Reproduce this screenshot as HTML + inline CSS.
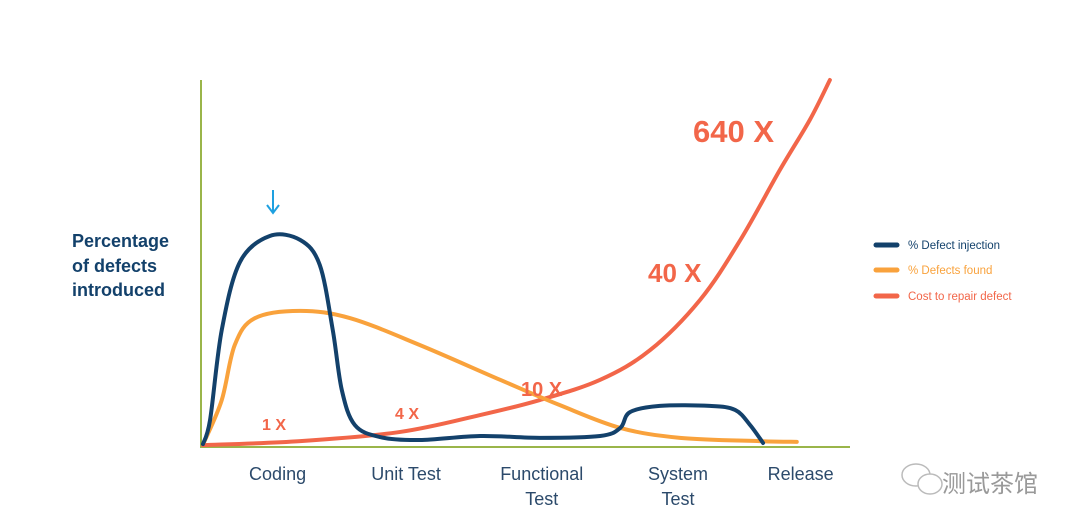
<!DOCTYPE html>
<html><head><meta charset="utf-8"><style>
html,body{margin:0;padding:0;background:#fff;}
svg{display:block;font-family:"Liberation Sans","Noto Sans CJK SC",sans-serif;}
</style></head><body>
<svg id="chart" width="1080" height="529" viewBox="0 0 1080 529">
<rect width="1080" height="529" fill="#fff"/>
<line x1="201" y1="80" x2="201" y2="448" stroke="#9ab54a" stroke-width="2"/>
<line x1="200" y1="447" x2="850" y2="447" stroke="#9ab54a" stroke-width="2"/>
<g fill="#13416b" font-size="18" font-weight="600">
<text x="72" y="247">Percentage</text><text x="72" y="272">of defects</text><text x="72" y="296">introduced</text>
</g>
<g id="cats" fill="#2c4a6b" font-size="18" text-anchor="middle"></g>
<g id="series"></g>
<g fill="#f26649" font-weight="bold">
<text x="693" y="142" font-size="31">640 X</text>
<text x="648" y="282" font-size="26">40 X</text>
<text x="521" y="396" font-size="20">10 X</text>
<text x="395" y="419" font-size="16">4 X</text>
<text x="262" y="430" font-size="16">1 X</text>
</g>
<g stroke="#1ea0e0" stroke-width="2" fill="none">
<line x1="273" y1="190" x2="273" y2="212"/><polyline points="267,205 273,213 279,205"/>
</g>
<g font-size="11.5">
<g><line x1="876" y1="245" x2="897" y2="245" stroke="#13416b" stroke-width="5" stroke-linecap="round"/><text x="908" y="249" fill="#13416b">% Defect injection</text></g>
<g><line x1="876" y1="270" x2="897" y2="270" stroke="#f9a23c" stroke-width="5" stroke-linecap="round"/><text x="908" y="274" fill="#f9a23c">% Defects found</text></g>
<g><line x1="876" y1="296" x2="897" y2="296" stroke="#f26649" stroke-width="5" stroke-linecap="round"/><text x="908" y="300" fill="#f26649">Cost to repair defect</text></g>
</g>
<g fill="none" stroke="#bbb" stroke-width="1.5">
<ellipse cx="916" cy="475" rx="14" ry="11"/><ellipse cx="930" cy="484" rx="12" ry="10" fill="#fff"/>
<text x="942" y="492" font-size="24" fill="#999" stroke="none">测试茶馆</text>
</g>
</svg>
<script>
const categories=["Coding","Unit Test","Functional|Test","System|Test","Release"];
const categoryPos=[11.8,31.6,52.5,73.5,92.4];
const injX=[0.3,1.4,3.2,6.0,10.6,15.3,18.3,20.3,21.7,23.7,27.6,33.7,43.0,52.2,61.5,64.6,66.1,70.7,78.4,82.3,84.6,86.6];
const injY=[0.8,7.4,31.9,50.4,57.5,56.4,49.6,31.9,15.5,6.0,2.7,1.9,3.0,2.5,3.0,5.2,9.5,11.2,11.2,10.1,6.0,1.1];
const foundX=[0.5,3.2,5.2,8.3,15.3,23.0,33.7,46.1,55.3,64.6,73.8,86.1,91.8];
const foundY=[1.4,12.8,27.8,35.1,37.1,35.1,27.8,18.3,11.4,5.2,2.5,1.6,1.4];
const costX=[0.3,15.3,30.7,43.0,52.2,61.5,69.2,76.9,83.1,89.2,93.8,96.9];
const costY=[0.5,1.6,4.1,8.7,12.8,18.3,26.4,40.1,56.4,75.5,89.1,100];
const NS="http://www.w3.org/2000/svg";
const sx=v=>201+v*6.49, sy=v=>447-v*3.67;
function path(xs,ys){
  const p=xs.map((x,i)=>[sx(x),sy(ys[i])]);
  let d="M"+p[0][0]+","+p[0][1];
  for(let i=0;i<p.length-1;i++){
    const a=p[Math.max(0,i-1)],b=p[i],c=p[i+1],e=p[Math.min(p.length-1,i+2)];
    d+=" C"+(b[0]+(c[0]-a[0])/6)+","+(b[1]+(c[1]-a[1])/6)+" "+(c[0]-(e[0]-b[0])/6)+","+(c[1]-(e[1]-b[1])/6)+" "+c[0]+","+c[1];
  }
  return d;
}
const g=document.getElementById("series");
[[costX,costY,"#f26649","cost-to-repair-line"],[foundX,foundY,"#f9a23c","defects-found-line"],[injX,injY,"#13416b","defect-injection-line"]].forEach(s=>{
  const el=document.createElementNS(NS,"path");
  el.setAttribute("d",path(s[0],s[1]));
  el.setAttribute("fill","none");el.setAttribute("stroke",s[2]);el.setAttribute("stroke-width","4");el.setAttribute("stroke-linecap","round");
  
  
  g.appendChild(el);
});
const cg=document.getElementById("cats");
categories.forEach((c,i)=>{
  c.split("|").forEach((line,j)=>{
    const t=document.createElementNS(NS,"text");
    t.setAttribute("x",sx(categoryPos[i]));t.setAttribute("y",480+j*25);
    t.textContent=line;
    
    
    cg.appendChild(t);
  });
});
</script>
</body></html>
